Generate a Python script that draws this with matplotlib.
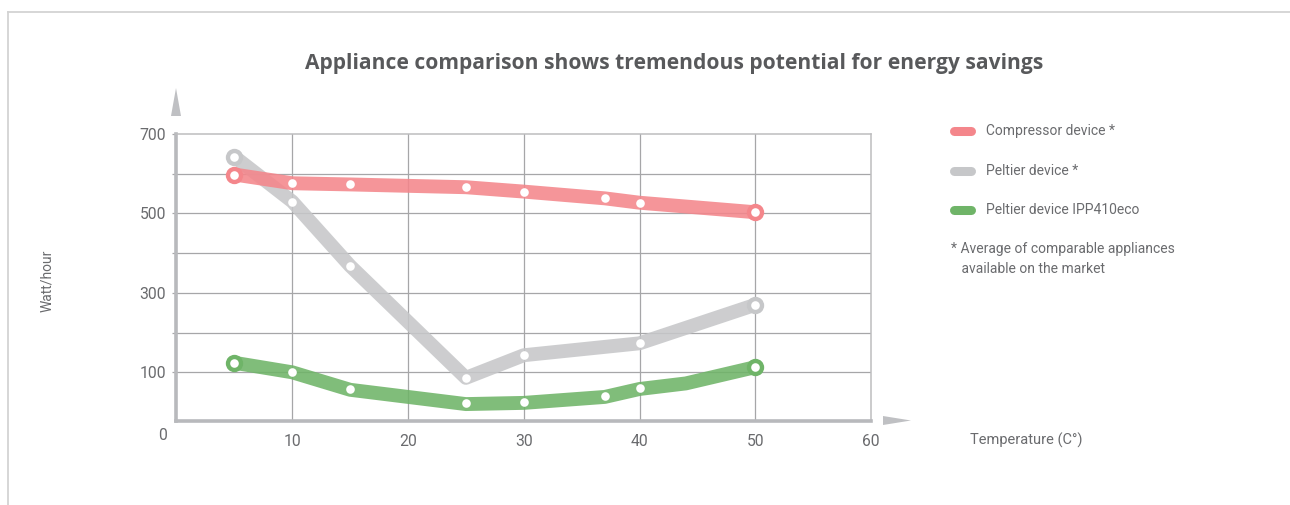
import matplotlib
matplotlib.use("Agg")
import matplotlib.pyplot as plt
from matplotlib.lines import Line2D
from matplotlib.patches import Polygon

# ---- data ----
temps_dots = [5, 10, 15, 25, 30, 37, 40, 50]
compressor = [598, 576, 573, 566, 555, 538, 527, 503]
peltier_x = [5, 10, 15, 25, 30, 40, 50]
peltier = [643, 530, 368, 86, 143, 173, 270]
ipp_dots = [124, 102, 58, 22, 25, 40, 60, 113]
ipp_line_x = [5, 10, 15, 25, 30, 37, 40, 44, 50]
ipp_line = [124, 100, 56, 20, 23, 38, 58, 72, 113]

series_labels = ["Compressor device *", "Peltier device *", "Peltier device IPP410eco"]
footnote = ["* Average of comparable appliances", "   available on the market"]
x_ticks = [10, 20, 30, 40, 50, 60]
y_ticks = [100, 200, 300, 400, 500, 600, 700]
y_labels = ["100", "", "300", "", "500", "", "700"]

title = "Appliance comparison shows tremendous potential for energy savings"
xlabel = "Temperature (C°)"
ylabel = "Watt/hour"

# ---- style ----
W, H = 1290, 505
C_RED = "#f4868b"
C_GRAY = "#c6c7c9"
C_GREEN = "#6fb468"
TXT = "#6a6b6e"
FONT = ["Roboto", "DejaVu Sans"]
TICK_FS = 11.3
LEG_FS = 10

fig = plt.figure(figsize=(W / 100, H / 100), dpi=100)
fig.patch.set_facecolor("white")

def fx(px):
    return px / W

def fy(py):
    return 1 - py / H

ax = fig.add_axes([fx(176.5), fy(421), fx(871) - fx(176.5), fy(134) - fy(421)])
ax.set_xlim(0, 60)
ax.set_ylim(-22.6, 700)

# grid
for xv in x_ticks[:-1]:
    ax.axvline(xv, color="#a6a6a8", lw=0.9, zorder=1)
for yv in y_ticks[:-1]:
    ax.axhline(yv, color="#a6a6a8", lw=0.9, zorder=1)

# spines
for s in ["left", "bottom"]:
    ax.spines[s].set_color("#b8b9bc")
    ax.spines[s].set_linewidth(2.6)
for s in ["top", "right"]:
    ax.spines[s].set_color("#bdbdbf")
    ax.spines[s].set_linewidth(1.1)

ax.set_xticks(x_ticks)
ax.set_xticklabels([str(v) for v in x_ticks])
ax.set_yticks(y_ticks)
ax.set_yticklabels(y_labels)
ax.tick_params(axis="x", length=0, pad=9, labelsize=TICK_FS, labelcolor=TXT)
ax.tick_params(axis="y", length=3, width=0.9, color="#a6a6a8", pad=4.5,
               labelsize=TICK_FS, labelcolor=TXT)
for lab in ax.get_xticklabels() + ax.get_yticklabels():
    lab.set_family(FONT)

# "0" at origin corner
ax.annotate("0", xy=(0, 0), xycoords="axes fraction", xytext=(-13.5, -14),
            textcoords="offset pixels", ha="center", va="center",
            fontsize=TICK_FS, color=TXT, family=FONT)

LW = 10
ALPHA = 0.88

def draw_series(lx, ly, dx, dy, color, z):
    ax.plot(lx, ly, color=color, lw=LW, alpha=ALPHA, solid_capstyle="round",
            solid_joinstyle="round", zorder=z)
    ax.plot([dx[0], dx[-1]], [dy[0], dy[-1]], ls="none", marker="o", ms=12.5,
            mfc=color, mec="none", zorder=z + 0.1)
    ax.plot(dx, dy, ls="none", marker="o", ms=6.2, mfc="white", mec="none",
            zorder=z + 0.2)

draw_series(peltier_x, peltier, peltier_x, peltier, C_GRAY, 3)
draw_series(temps_dots, compressor, temps_dots, compressor, C_RED, 4)
draw_series(ipp_line_x, ipp_line, temps_dots, ipp_dots, C_GREEN, 5)

# axis arrows
arrow_c = "#bfc0c3"
fig.add_artist(Polygon([(fx(171), fy(116)), (fx(181), fy(116)), (fx(176), fy(88))],
                       closed=True, transform=fig.transFigure, color=arrow_c, lw=0))
fig.add_artist(Polygon([(fx(883), fy(416)), (fx(883), fy(425)), (fx(911), fy(420.5))],
                       closed=True, transform=fig.transFigure, color=arrow_c, lw=0))

# title and axis labels
fig.text(fx(674.5), fy(63), title, ha="center", va="center", fontsize=15.1,
         fontweight="bold", color="#58595b", family=["Open Sans", "DejaVu Sans"])
fig.text(fx(1026.5), fy(440), xlabel, ha="center", va="center", fontsize=LEG_FS + 0.5,
         color=TXT, family=FONT)
fig.text(fx(47), fy(281), ylabel, ha="center", va="center", rotation=90,
         fontsize=LEG_FS, color=TXT, family=FONT)

# legend
leg_y = [131, 171, 210]
for lab, col, yy in zip(series_labels, [C_RED, C_GRAY, C_GREEN], leg_y):
    fig.add_artist(Line2D([fx(954), fx(971)], [fy(yy), fy(yy)], transform=fig.transFigure,
                          color=col, lw=6.5, solid_capstyle="round"))
    fig.text(fx(986), fy(yy), lab, ha="left", va="center", fontsize=LEG_FS,
             color=TXT, family=FONT)
fig.text(fx(951), fy(249), footnote[0], ha="left", va="center", fontsize=LEG_FS,
         color=TXT, family=FONT)
fig.text(fx(951), fy(269), footnote[1], ha="left", va="center", fontsize=LEG_FS,
         color=TXT, family=FONT)

# outer frame
frame_c = "#d3d3d3"
fig.add_artist(Line2D([fx(8), fx(1290)], [fy(11.5), fy(11.5)], transform=fig.transFigure,
                      color=frame_c, lw=1.3))
fig.add_artist(Line2D([fx(8), fx(8)], [fy(11.5), fy(505)], transform=fig.transFigure,
                      color=frame_c, lw=1.3))

fig.savefig("out.png", dpi=100)
